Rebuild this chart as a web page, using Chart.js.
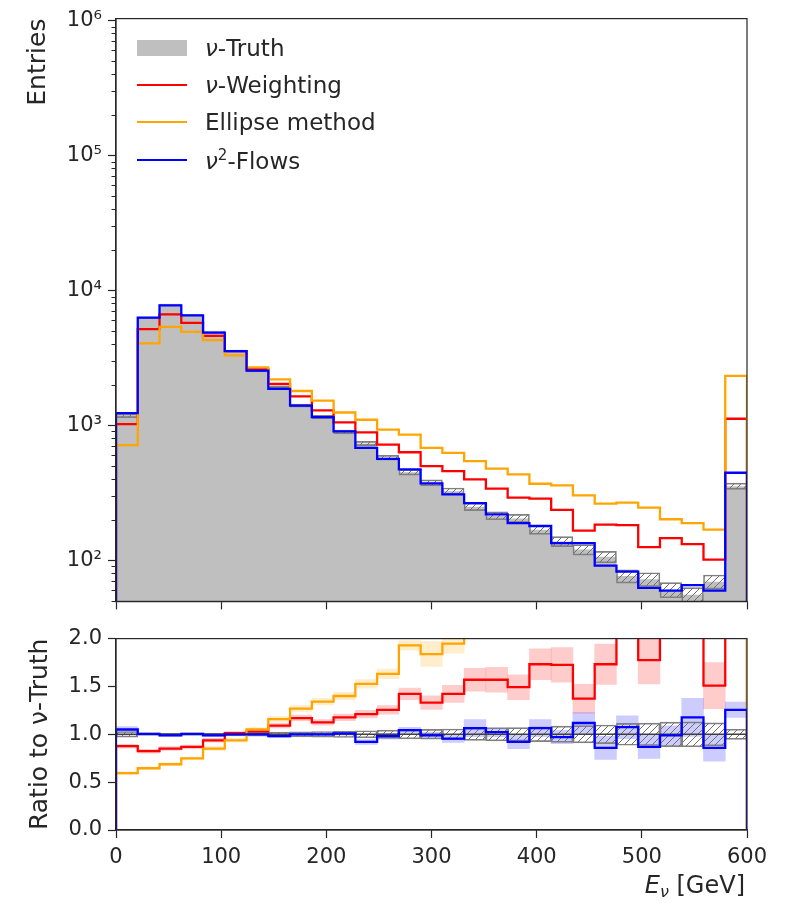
<!DOCTYPE html>
<html>
<head>
<meta charset="utf-8">
<script src="https://cdn.jsdelivr.net/npm/chart.js@4.4.1/dist/chart.umd.min.js"></script>
<style>
  body { margin: 0; background: #fff; font-family: 'DejaVu Sans', sans-serif; color: #262626; }
  #wrap { position: relative; width: 795px; height: 903px; overflow: hidden; }
  #top-chart { position: absolute; left: 0; top: 0; }
  #ratio-chart { position: absolute; left: 0; top: 620px; }
  #legend { position: absolute; left: 137px; top: 29px; font-size: 23px; }
  .legend-row { height: 37.3px; display: flex; align-items: center; white-space: nowrap; }
  .legend-swatch { width: 50px; margin-right: 18px; }
  #x-title { position: absolute; right: 50px; top: 873px; font-size: 24px; line-height: 1; white-space: nowrap; }
  #x-title sub { font-size: 16px; vertical-align: -4px; }
</style>
</head>
<body>
<div id="wrap">
  <canvas id="top-chart" width="795" height="620"></canvas>
  <canvas id="ratio-chart" width="795" height="283"></canvas>
  <div id="legend"></div>
  <div id="x-title"><i>E</i><sub><i>ν</i></sub> [GeV]</div>
</div>
<script>
// bin edges in GeV (29 bins from 0 to 600)
const binEdges = [0, 20.69, 41.38, 62.07, 82.76, 103.45, 124.14, 144.83, 165.52, 186.21, 206.9,
  227.59, 248.28, 268.97, 289.66, 310.34, 331.03, 351.72, 372.41, 393.1, 413.79, 434.48,
  455.17, 475.86, 496.55, 517.24, 537.93, 558.62, 579.31, 600];

// entries per bin
const truth = [1183, 6300, 7880, 6590, 4960, 3575, 2560, 1914, 1410, 1161, 900, 740, 580, 452, 378,
  328, 251, 216, 206, 170, 139, 121, 107, 77, 73, 61, 56, 70, 357];
const weighting = [1030, 5200, 6700, 5780, 4630, 3575, 2630, 2040, 1650, 1300, 1060, 895, 726, 637, 502,
  461, 401, 342, 294, 289, 238, 167, 185, 184, 126, 147, 133, 102, 1128];
const ellipse = [718, 4075, 5400, 4960, 4310, 3330, 2710, 2210, 1810, 1538, 1255, 1109, 936, 860, 686,
  631, 547, 481, 436, 372, 362, 305, 265, 270, 248, 203, 190, 170, 2340];
const flows = [1242, 6340, 7800, 6590, 4910, 3575, 2560, 1876, 1410, 1161, 910, 686, 569, 475, 374,
  310, 267, 221, 190, 181, 135, 135, 92, 83, 63, 60, 66, 60, 449];

// ratio to truth (lower panel)
const ratioTruth = [1, 1, 1, 1, 1, 1, 1, 1, 1, 1, 1, 1, 1, 1, 1, 1, 1, 1, 1, 1, 1, 1, 1, 1, 1, 1, 1, 1, 1];
const ratioWeighting = [0.876, 0.824, 0.851, 0.868, 0.937, 1.012, 1.03, 1.091, 1.17, 1.125, 1.177, 1.211,
  1.256, 1.423, 1.331, 1.423, 1.57, 1.57, 1.492, 1.732, 1.725, 1.372, 1.732, 2.4, 1.776, 2.37, 2.4, 1.509, 3.1];
const ratioEllipse = [0.594, 0.645, 0.687, 0.748, 0.851, 0.937, 1.05, 1.159, 1.269, 1.341, 1.4, 1.526,
  1.632, 1.93, 1.838, 1.948, 2.18, 2.23, 2.12, 2.19, 2.6, 2.52, 2.48, 3.5, 3.4, 3.33, 3.39, 2.43, 6.55];
const ratioFlows = [1.05, 1.005, 0.989, 1.005, 0.989, 1.0, 1.0, 0.98, 1.0, 1.0, 1.01, 0.92, 0.98, 1.043,
  0.989, 0.954, 1.064, 1.023, 0.92, 1.064, 0.971, 1.118, 0.858, 1.074, 0.868, 0.989, 1.177, 0.858, 1.256];

// half widths of the uncertainty bands (relative)
const truthErr = [0.029, 0.013, 0.011, 0.012, 0.014, 0.017, 0.02, 0.023, 0.027, 0.029, 0.033, 0.037, 0.042,
  0.047, 0.051, 0.055, 0.063, 0.068, 0.07, 0.077, 0.085, 0.09, 0.097, 0.114, 0.117, 0.128, 0.13, 0.12, 0.053];
const weightingErr = [0.02, 0.02, 0.02, 0.02, 0.02, 0.02, 0.02, 0.025, 0.03, 0.03, 0.035, 0.04, 0.045, 0.06,
  0.07, 0.09, 0.12, 0.13, 0.13, 0.16, 0.18, 0.15, 0.21, 0.3, 0.25, 0.3, 0.3, 0.24, 0.2];
const ellipseErr = [0.015, 0.015, 0.015, 0.015, 0.02, 0.02, 0.02, 0.025, 0.03, 0.035, 0.04, 0.045, 0.05,
  0.05, 0.13, 0.1, 0.1, 0.1, 0.1, 0.1, 0.1, 0.1, 0.1, 0.1, 0.1, 0.1, 0.1, 0.1, 0.1];
const flowsErr = [0.03, 0.01, 0.01, 0.01, 0.01, 0.01, 0.01, 0.015, 0.015, 0.02, 0.02, 0.025, 0.03, 0.03,
  0.035, 0.04, 0.09, 0.05, 0.07, 0.09, 0.07, 0.11, 0.12, 0.12, 0.12, 0.1, 0.2, 0.14, 0.08];

const seriesLabels = ['<i>ν</i>-Truth', '<i>ν</i>-Weighting', 'Ellipse method', '<i>ν</i><sup style="font-size:15px">2</sup>-Flows'];
const COLORS = { truth: '#bfbfbf', weighting: '#ff0000', ellipse: '#ffa500', flows: '#0000ff', edge: '#262626' };
const SUP = { 2: '²', 3: '³', 4: '⁴', 5: '⁵', 6: '⁶' };

Chart.defaults.font.family = "'DejaVu Sans', sans-serif";
Chart.defaults.font.size = 21;
Chart.defaults.color = '#262626';

const binCenters = binEdges.slice(0, -1).map((e, i) => (e + binEdges[i + 1]) / 2);

// step outline of a histogram, closed down to the axis at both ends
function stepPoints(values, base) {
  const last = binEdges[binEdges.length - 1];
  const pts = [{ x: binEdges[0], y: base }];
  values.forEach((v, i) => pts.push({ x: binEdges[i], y: v }));
  pts.push({ x: last, y: values[values.length - 1] });
  pts.push({ x: last, y: base });
  return pts;
}

function bandBoxes(values, err, relative) {
  return values.map((v, i) => {
    const d = relative ? v * err[i] : err[i];
    return { x: binCenters[i], y: [v - d, v + d] };
  });
}

function hatchPattern() {
  const c = document.createElement('canvas');
  c.width = 7; c.height = 7;
  const g = c.getContext('2d');
  g.strokeStyle = '#707070';
  g.lineWidth = 1;
  g.beginPath();
  g.moveTo(0, 7); g.lineTo(7, 0);
  g.moveTo(-1, 1); g.lineTo(1, -1);
  g.moveTo(6, 8); g.lineTo(8, 6);
  g.stroke();
  return g.createPattern(c, 'repeat');
}

function isPow10(v) {
  const l = Math.log10(v);
  return Math.abs(l - Math.round(l)) < 1e-6;
}

function isRoundTick(v) {
  const s = v / Math.pow(10, Math.floor(Math.log10(v) + 1e-9));
  return Math.abs(s - Math.round(s)) < 1e-6;
}

// top and right spines
const framePlugin = {
  id: 'frame',
  afterDraw(chart) {
    const { ctx, chartArea: a } = chart;
    ctx.save();
    ctx.strokeStyle = COLORS.edge;
    ctx.lineWidth = 1.2;
    ctx.strokeRect(a.left, a.top, a.right - a.left, a.bottom - a.top);
    ctx.restore();
  }
};

function stepLine(data, color, order, width) {
  return { type: 'line', data, stepped: true, borderColor: color, borderWidth: width || 2.3,
    pointRadius: 0, fill: false, order };
}

function boxes(data, color, order, border) {
  return { type: 'bar', data, backgroundColor: color, borderColor: border || 'transparent',
    borderWidth: border ? 1 : 0, borderSkipped: false, barPercentage: 1, categoryPercentage: 1,
    grouped: false, order };
}

function xScale(showLabels, height) {
  return {
    type: 'linear', min: 0, max: 600, offset: false,
    ticks: { stepSize: 100, padding: 7, callback: v => showLabels ? String(v) : '' },
    grid: { offset: false, drawOnChartArea: false, tickLength: 8, tickColor: COLORS.edge, tickWidth: 1.2 },
    border: { color: COLORS.edge, width: 1.2 },
    afterFit: s => { s.height = height; }
  };
}

function initializeCharts() {
  const hatch = hatchPattern();

  new Chart(document.getElementById('top-chart'), {
    type: 'line',
    data: {
      datasets: [
        stepLine(stepPoints(flows, 1), COLORS.flows, 1),
        stepLine(stepPoints(ellipse, 1), COLORS.ellipse, 2),
        stepLine(stepPoints(weighting, 1), COLORS.weighting, 3),
        boxes(bandBoxes(truth, truthErr, true), hatch, 4, '#808080'),
        { type: 'line', data: stepPoints(truth, 1), stepped: true, borderWidth: 0, pointRadius: 0,
          fill: 'start', backgroundColor: COLORS.truth, order: 5 }
      ]
    },
    options: {
      responsive: false, animation: false, events: [],
      layout: { padding: { left: 0, right: 48, top: 17, bottom: 0 } },
      plugins: { legend: { display: false }, tooltip: { enabled: false } },
      scales: {
        x: xScale(false, 17),
        y: {
          type: 'logarithmic', min: 50, max: 1.04e6,
          afterBuildTicks: s => { s.ticks = s.ticks.filter(t => isRoundTick(t.value)); },
          ticks: { autoSkip: false, padding: 6,
            callback: v => isPow10(v) ? '10' + SUP[Math.round(Math.log10(v))] : '' },
          grid: { offset: false, drawOnChartArea: false, tickLength: 8, tickColor: COLORS.edge, tickWidth: 1.2,
            // minor ticks: blank the outer part so they come out shorter
            tickBorderDash: c => (c.tick && !isPow10(c.tick.value)) ? [0, 3.5, 5, 100] : [] },
          border: { color: COLORS.edge, width: 1.2 },
          title: { display: true, text: 'Entries', align: 'end', padding: { top: 23, bottom: 0 }, font: { size: 25 } },
          afterFit: s => { s.width = 116; }
        }
      }
    },
    plugins: [framePlugin]
  });

  new Chart(document.getElementById('ratio-chart'), {
    type: 'line',
    data: {
      datasets: [
        stepLine(stepPoints(ratioFlows, 0), COLORS.flows, 1),
        stepLine(stepPoints(ratioEllipse, 0), COLORS.ellipse, 2),
        stepLine(stepPoints(ratioWeighting, 0), COLORS.weighting, 3),
        stepLine(stepPoints(ratioTruth, 0), '#404040', 4, 1.5),
        boxes(bandBoxes(ratioTruth, truthErr, false), hatch, 5, '#808080'),
        boxes(bandBoxes(ratioFlows, flowsErr, false), 'rgba(0,0,255,0.2)', 6),
        boxes(bandBoxes(ratioEllipse, ellipseErr, false), 'rgba(255,165,0,0.2)', 7),
        boxes(bandBoxes(ratioWeighting, weightingErr, false), 'rgba(255,0,0,0.2)', 8)
      ]
    },
    options: {
      responsive: false, animation: false, events: [],
      layout: { padding: { left: 0, right: 48, top: 15, bottom: 0 } },
      plugins: { legend: { display: false }, tooltip: { enabled: false } },
      scales: {
        x: xScale(true, 73),
        y: {
          type: 'linear', min: 0, max: 2,
          ticks: { stepSize: 0.5, padding: 6, callback: v => v.toFixed(1) },
          grid: { offset: false, drawOnChartArea: false, tickLength: 8, tickColor: COLORS.edge, tickWidth: 1.2 },
          border: { color: COLORS.edge, width: 1.2 },
          title: { display: true, text: 'Ratio to ν-Truth', padding: { top: 25, bottom: 0 }, font: { size: 25 } },
          afterFit: s => { s.width = 116; }
        }
      }
    },
    plugins: [framePlugin]
  });
}

function renderLegend() {
  const colors = [COLORS.truth, COLORS.weighting, COLORS.ellipse, COLORS.flows];
  const box = document.getElementById('legend');
  seriesLabels.forEach((label, i) => {
    const row = document.createElement('div');
    row.className = 'legend-row';
    const sw = document.createElement('span');
    sw.className = 'legend-swatch';
    sw.style.height = i === 0 ? '16px' : '2px';
    sw.style.background = colors[i];
    const txt = document.createElement('span');
    txt.innerHTML = label;
    row.appendChild(sw);
    row.appendChild(txt);
    box.appendChild(row);
  });
}

document.addEventListener('DOMContentLoaded', () => {
  initializeCharts();
  renderLegend();
});
</script>
</body>
</html>
